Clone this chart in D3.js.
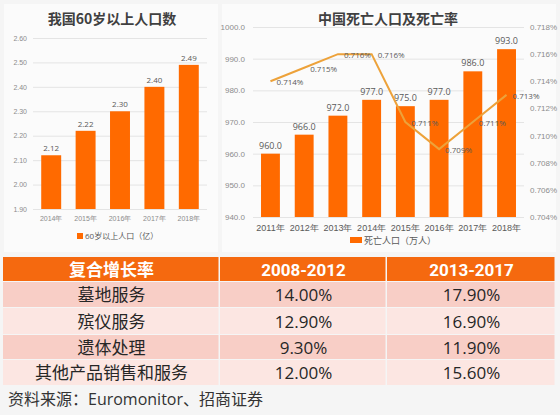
<!DOCTYPE html>
<html><head><meta charset="utf-8">
<script src="https://cdn.jsdelivr.net/npm/d3@7"></script>
<style>
html,body{margin:0;padding:0;background:#f6f6f6;}
svg{display:block;font-family:"Open Sans","Noto Sans CJK SC","Noto Sans",sans-serif;}
</style></head><body>
<svg id="c" width="560" height="415"></svg>
<script>
// ---- data ----
const elderYears = ["2014年","2015年","2016年","2017年","2018年"];
const elderValues = [2.12, 2.22, 2.30, 2.40, 2.49];
const elderTicks = [1.90, 2.00, 2.10, 2.20, 2.30, 2.40, 2.50, 2.60];

const deathYears = ["2011年","2012年","2013年","2014年","2015年","2016年","2017年","2018年"];
const deathValues = [960.0, 966.0, 972.0, 977.0, 975.0, 977.0, 986.0, 993.0];
const deathRates = [0.714, 0.715, 0.716, 0.716, 0.711, 0.709, 0.711, 0.713];
const deathTicks = [940, 950, 960, 970, 980, 990, 1000];
const rateTicks = [0.704, 0.706, 0.708, 0.710, 0.712, 0.714, 0.716, 0.718];

const tableHeader = ["复合增长率", "2008-2012", "2013-2017"];
const tableRows = ["墓地服务", "殡仪服务", "遗体处理", "其他产品销售和服务"];
const cagr0812 = ["14.00%", "12.90%", "9.30%", "12.00%"];
const cagr1317 = ["17.90%", "16.90%", "11.90%", "15.60%"];
const sourceText = "资料来源：Euromonitor、招商证券";

// ---- styles ----
const ORANGE = "#FF6A00";
const LINE = "#EDA23A";
const GRID = "#e4e4e4";
const TXT = "#595959";
const CJK = "'Noto Sans CJK SC','Noto Sans',sans-serif";
const HEAD = "Roboto,'Noto Sans CJK SC',sans-serif";

const svg = d3.select("#c");
// background panels
svg.append("rect").attr("width",560).attr("height",415).attr("fill","#f5f5f5");
svg.append("rect").attr("x",4).attr("y",4).attr("width",214).attr("height",248).attr("fill","#fbfbfb");
svg.append("rect").attr("x",222).attr("y",4).attr("width",334).attr("height",248).attr("fill","#fbfbfb");

// ===== Left chart =====
const lx = d3.scaleBand().domain(elderYears).range([34,206]).paddingInner(0.42).paddingOuter(0.21);
const ly = d3.scaleLinear().domain([1.9,2.6]).range([209,38]);
const gL = svg.append("g");
gL.append("text").attr("x",112).attr("y",24).attr("text-anchor","middle").attr("font-family",CJK)
  .attr("font-size",14).attr("font-weight","bold").attr("fill","#404040").text("我国60岁以上人口数");
const lAxis = gL.append("g").attr("transform","translate(33,0)")
  .call(d3.axisLeft(ly).tickValues(elderTicks).tickFormat(d3.format(".2f")).tickSize(-174).tickPadding(6));
lAxis.select(".domain").remove();
lAxis.selectAll("line").attr("stroke",GRID);
lAxis.selectAll("text").attr("font-size",7).attr("fill","#8c8c8c").attr("font-family","inherit");
gL.selectAll(".bar").data(elderValues).join("rect")
  .attr("x",(d,i)=>lx(elderYears[i])).attr("width",lx.bandwidth())
  .attr("y",d=>ly(d)).attr("height",d=>ly(1.9)-ly(d)).attr("fill",ORANGE);
gL.selectAll(".vl").data(elderValues).join("text")
  .attr("x",(d,i)=>lx(elderYears[i])+lx.bandwidth()/2).attr("y",d=>ly(d)-4)
  .attr("text-anchor","middle").attr("font-size",8).attr("fill",TXT).text(d=>d3.format(".2f")(d));
const lxa = gL.append("g").attr("transform","translate(0,209)").call(d3.axisBottom(lx).tickSize(0).tickPadding(7));
lxa.select(".domain").remove();
lxa.selectAll("text").attr("font-size",7).attr("fill","#8c8c8c").attr("font-family","inherit");
gL.append("rect").attr("x",77).attr("y",233).attr("width",6).attr("height",6).attr("fill",ORANGE);
gL.append("text").attr("x",85).attr("y",239).attr("font-size",8).attr("fill",TXT).text("60岁以上人口（亿）");

// ===== Right chart =====
const rx = d3.scaleBand().domain(deathYears).range([253.6,523.4]).paddingInner(0.44).paddingOuter(0.22);
const ry = d3.scaleLinear().domain([940,1000]).range([217,27]);
const ry2 = d3.scaleLinear().domain([0.704,0.718]).range([217,27]);
const gR = svg.append("g");
gR.append("text").attr("x",388).attr("y",24).attr("text-anchor","middle").attr("font-family",CJK)
  .attr("font-size",14).attr("font-weight","bold").attr("fill","#404040").text("中国死亡人口及死亡率");
const rAxis = gR.append("g").attr("transform","translate(253,0)")
  .call(d3.axisLeft(ry).tickValues(deathTicks).tickFormat(d3.format(".1f")).tickSize(-271).tickPadding(8));
rAxis.select(".domain").remove();
rAxis.selectAll("line").attr("stroke",GRID);
rAxis.selectAll("text").attr("font-size",8).attr("fill","#8c8c8c").attr("font-family","inherit");
const rAxis2 = gR.append("g").attr("transform","translate(524,0)")
  .call(d3.axisRight(ry2).tickValues(rateTicks).tickFormat(d=>d3.format(".3f")(d)+"%").tickSize(0).tickPadding(6));
rAxis2.select(".domain").remove();
rAxis2.selectAll("text").attr("font-size",8).attr("fill","#8c8c8c").attr("font-family","inherit");
gR.selectAll(".bar").data(deathValues).join("rect")
  .attr("x",(d,i)=>rx(deathYears[i])).attr("width",rx.bandwidth())
  .attr("y",d=>ry(d)).attr("height",d=>ry(940)-ry(d)).attr("fill",ORANGE);
gR.selectAll(".vl").data(deathValues).join("text")
  .attr("x",(d,i)=>rx(deathYears[i])+rx.bandwidth()/2).attr("y",d=>ry(d)-5)
  .attr("text-anchor","middle").attr("font-size",9).attr("fill",TXT).text(d=>d3.format(".1f")(d));
const line = d3.line().x((d,i)=>rx(deathYears[i])+rx.bandwidth()/2).y(d=>ry2(d));
gR.append("path").datum(deathRates).attr("d",line).attr("fill","none").attr("stroke",LINE).attr("stroke-width",2);
gR.selectAll(".ll").data(deathRates).join("text")
  .attr("x",(d,i)=>rx(deathYears[i])+rx.bandwidth()/2+6).attr("y",d=>ry2(d)+4)
  .attr("font-size",8).attr("fill",TXT).text(d=>d3.format(".3f")(d)+"%");
const rxa = gR.append("g").attr("transform","translate(0,217)").call(d3.axisBottom(rx).tickSize(0).tickPadding(8));
rxa.select(".domain").remove();
rxa.selectAll("text").attr("font-size",9).attr("fill",TXT).attr("font-family","inherit");
gR.append("rect").attr("x",350).attr("y",237).attr("width",12).attr("height",6).attr("fill",ORANGE);
gR.append("text").attr("x",364).attr("y",244).attr("font-size",9).attr("fill",TXT).text("死亡人口（万人）");

// ===== Table =====
const colX = [3, 220, 387, 556];
const rowY = [257, 282, 308, 335, 360, 386];
const rowFill = ["#F8CEC6", "#FCE6E2", "#F8CEC6", "#FCE6E2"];
const gT = svg.append("g");
tableHeader.forEach((h,j)=>{
  gT.append("rect").attr("x",colX[j]).attr("y",rowY[0]).attr("width",colX[j+1]-colX[j]-1.5)
    .attr("height",rowY[1]-rowY[0]-1).attr("fill","#F5690F");
  gT.append("text").attr("x",(colX[j]+colX[j+1])/2).attr("y",(rowY[0]+rowY[1])/2+6)
    .attr("text-anchor","middle").attr("font-family",HEAD).attr("font-size",17).attr("font-weight","bold")
    .attr("fill","#fff").text(h);
});
tableRows.forEach((r,i)=>{
  const cells = [r, cagr0812[i], cagr1317[i]];
  cells.forEach((c,j)=>{
    gT.append("rect").attr("x",colX[j]).attr("y",rowY[i+1]).attr("width",colX[j+1]-colX[j]-1.5)
      .attr("height",rowY[i+2]-rowY[i+1]-1).attr("fill",rowFill[i]);
    gT.append("text").attr("x",(colX[j]+colX[j+1])/2).attr("y",(rowY[i+1]+rowY[i+2])/2+6)
      .attr("text-anchor","middle").attr("font-size",17).attr("fill","#262626").text(c);
  });
});
svg.append("text").attr("x",8).attr("y",405).attr("font-size",16).attr("fill","#333").text(sourceText);
</script>
</body></html>
